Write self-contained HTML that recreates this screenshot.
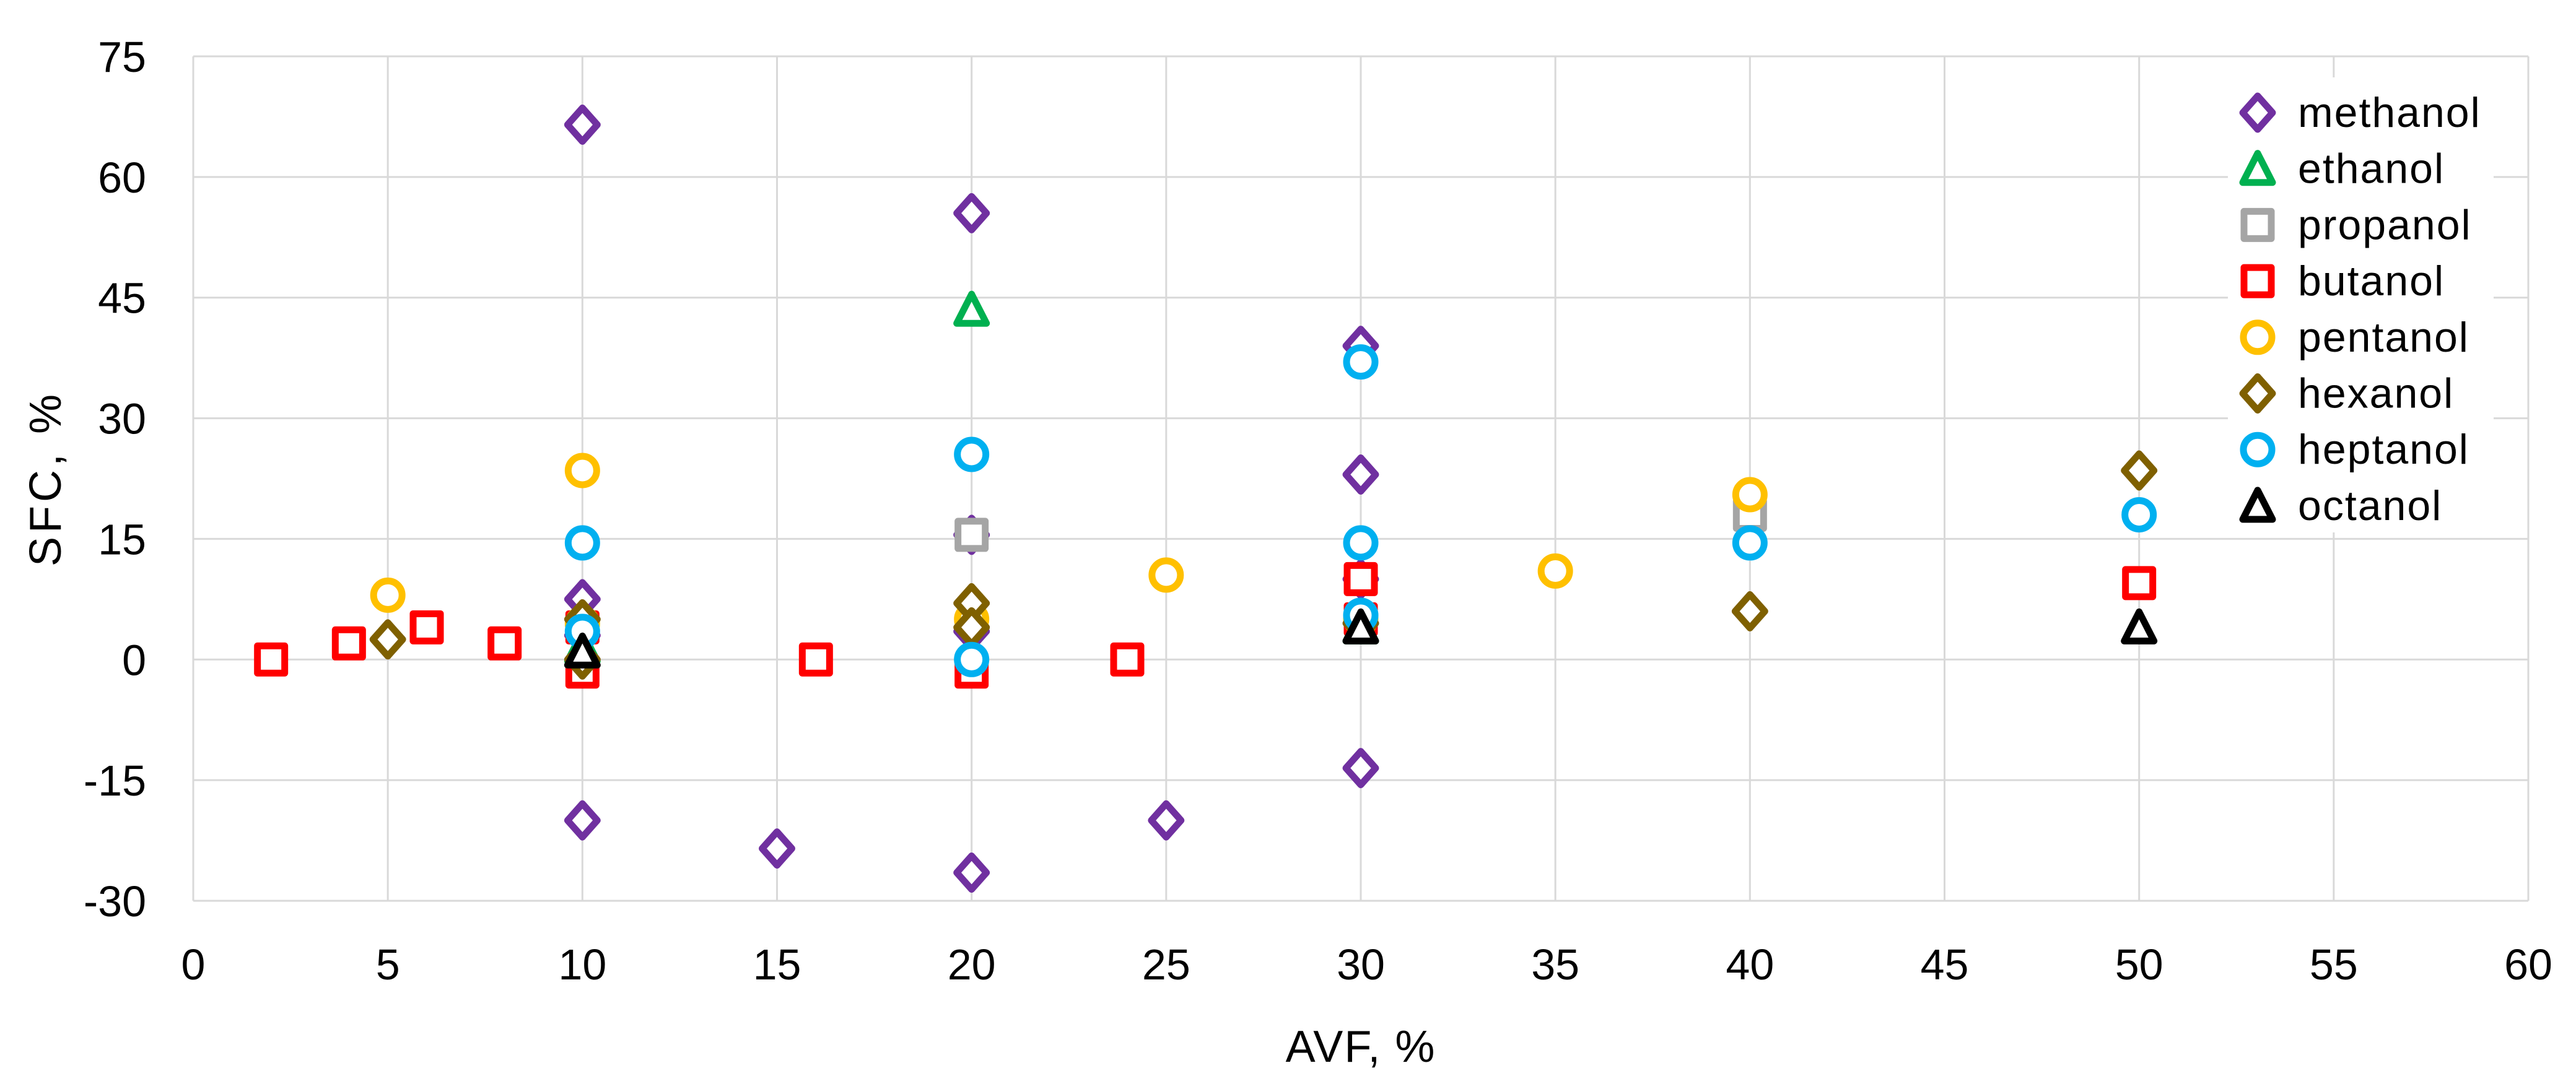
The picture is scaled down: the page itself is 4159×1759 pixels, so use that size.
<!DOCTYPE html>
<html><head><meta charset="utf-8"><style>
html,body{margin:0;padding:0;background:#fff;}
svg{display:block;}
text{font-family:"Liberation Sans",sans-serif;fill:#000;}
</style></head><body>
<svg id="chart" width="4159" height="1759" viewBox="0 0 4159 1759" xmlns="http://www.w3.org/2000/svg">
<rect x="0" y="0" width="4159" height="1759" fill="#fff"/>
<g id="grid"></g>
<g id="axes"></g>
<g id="marks"></g>
<g id="legend"></g>
<text x="2197" y="1715" font-size="72" text-anchor="middle" letter-spacing="2">AVF, %</text>
<text x="0" y="0" font-size="72" text-anchor="middle" letter-spacing="6" transform="translate(98,773) rotate(-90)">SFC, %</text>
</svg>
<script>
const xTicks = [0,5,10,15,20,25,30,35,40,45,50,55,60];
const yTicks = [75,60,45,30,15,0,-15,-30];
const seriesNames = ["methanol","ethanol","propanol","butanol","pentanol","hexanol","heptanol","octanol"];
const seriesColors = ["#7030A0","#00B050","#A5A5A5","#FF0000","#FFC000","#7F6000","#00B0F0","#000000"];
const seriesShapes = ["diamond","triangle","square","square","circle","diamond","circle","triangle"];
const methanolX = [10,20,30,30,20,10,20,10,15,20,25,30,30,10];
const methanolY = [66.5,55.5,39,23,15.5,7.5,3.5,-20,-23.5,-26.5,-20,-13.5,10,3];
const ethanolX = [20,10,30];
const ethanolY = [43.5,1.5,4];
const propanolX = [20,40];
const propanolY = [15.5,18];
const butanolX = [2,4,6,8,10,10,16,20,24,30,50,30];
const butanolY = [0,2,4,2,-1.5,4,0,-1.5,0,10,9.5,5];
const pentanolX = [5,10,10,20,25,35,40,30];
const pentanolY = [8,23.5,4.5,5,10.5,11,20.5,5];
const hexanolX = [5,10,10,20,20,30,40,50];
const hexanolY = [2.5,5,0,7,4,4.5,6,23.5];
const heptanolX = [10,10,20,20,30,30,30,40,50];
const heptanolY = [14.5,3.5,25.5,0,37,14.5,5.5,14.5,18];
const octanolX = [10,30,50];
const octanolY = [1,4,4];
const allX = [methanolX,ethanolX,propanolX,butanolX,pentanolX,hexanolX,heptanolX,octanolX];
const allY = [methanolY,ethanolY,propanolY,butanolY,pentanolY,hexanolY,heptanolY,octanolY];

const L=312,R=4082,T=91,B=1455, xMin=0,xMax=60,yMin=-30,yMax=75;
function sx(v){return L+(v-xMin)/(xMax-xMin)*(R-L);}
function sy(v){return B-(v-yMin)/(yMax-yMin)*(B-T);}
const NS="http://www.w3.org/2000/svg";
function mk(tag,attrs,parent){const e=document.createElementNS(NS,tag);for(const k in attrs)e.setAttribute(k,attrs[k]);parent.appendChild(e);return e;}
const grid=document.getElementById('grid'),axes=document.getElementById('axes'),marks=document.getElementById('marks'),legend=document.getElementById('legend');
xTicks.forEach(t=>{
  const l=mk('line',{x1:sx(t),x2:sx(t),y1:T,y2:B,stroke:'#d9d9d9','stroke-width':3},grid);
  
  
  const tx=mk('text',{x:sx(t),y:1582,'font-size':70,'text-anchor':'middle'},axes);
  tx.textContent=t;
  
  
});
yTicks.forEach(t=>{
  const l=mk('line',{x1:L,x2:R,y1:sy(t),y2:sy(t),stroke:'#d9d9d9','stroke-width':3},grid);
  
  
  const tx=mk('text',{x:236,y:sy(t)+25,'font-size':70,'text-anchor':'end'},axes);
  tx.textContent=t;
  
  
});
function shape(kind,cx,cy,color,parent){
  const sw=11; let e;
  if(kind==='diamond'){e=mk('polygon',{points:`${cx},${cy-27} ${cx+24},${cy} ${cx},${cy+27} ${cx-24},${cy}`},parent);}
  else if(kind==='triangle'){e=mk('polygon',{points:`${cx},${cy-25} ${cx+24},${cy+22} ${cx-24},${cy+22}`},parent);}
  else if(kind==='square'){e=mk('rect',{x:cx-22,y:cy-22,width:44,height:44},parent);}
  else {e=mk('ellipse',{cx:cx,cy:cy,rx:23,ry:23},parent);}
  e.setAttribute('fill','#fff');e.setAttribute('stroke',color);e.setAttribute('stroke-width',sw);e.setAttribute('stroke-linejoin','round');
  return e;
}
allX.forEach((xs,s)=>{
  xs.forEach((xv,i)=>{
    const e=shape(seriesShapes[s],sx(xv),sy(allY[s][i]),seriesColors[s],marks);
    
    
  });
});
mk('rect',{x:3597,y:125,width:429,height:735,fill:'#fff'},legend);
seriesNames.forEach((n,s)=>{
  const cy=182+s*90.7;
  const e=shape(seriesShapes[s],3645,cy,seriesColors[s],legend);
  
  
  const t=mk('text',{x:3710,y:cy+23,'font-size':68,'letter-spacing':2},legend);
  t.textContent=n;
  
  
});
</script>
</body></html>
